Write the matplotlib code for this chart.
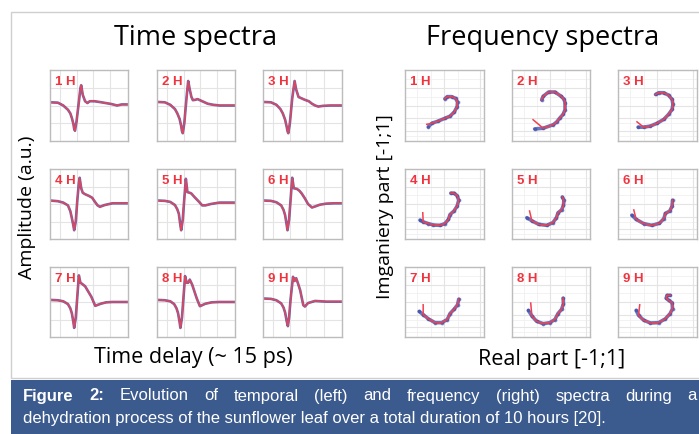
import numpy as np
import matplotlib
matplotlib.use('Agg')
import matplotlib.pyplot as plt
from matplotlib.patches import Rectangle

W, H = 699, 434

# ---- time spectra (normalised time 0..1, amplitude a.u.) ----
time_labels = ['1 H', '2 H', '3 H', '4 H', '5 H', '6 H', '7 H', '8 H', '9 H']
time_t = [
    [0, 0.10, 0.17, 0.23, 0.26, 0.28, 0.30, 0.31, 0.32, 0.34, 0.37, 0.39, 0.40, 0.42, 0.45, 0.48, 0.51, 0.57, 0.66, 0.79, 0.86, 0.92, 1.0],
    [0, 0.10, 0.17, 0.23, 0.26, 0.29, 0.31, 0.32, 0.33, 0.35, 0.38, 0.40, 0.42, 0.44, 0.46, 0.49, 0.52, 0.58, 0.65, 0.72, 0.80, 0.90, 1.0],
    [0, 0.10, 0.17, 0.22, 0.25, 0.28, 0.30, 0.31, 0.32, 0.34, 0.37, 0.40, 0.42, 0.45, 0.49, 0.53, 0.58, 0.62, 0.66, 0.70, 0.76, 0.85, 1.0],
    [0, 0.10, 0.17, 0.23, 0.26, 0.28, 0.30, 0.31, 0.33, 0.35, 0.37, 0.38, 0.40, 0.42, 0.45, 0.50, 0.54, 0.58, 0.61, 0.64, 0.70, 0.80, 0.90, 1.0],
    [0, 0.10, 0.17, 0.23, 0.26, 0.28, 0.30, 0.31, 0.33, 0.35, 0.37, 0.39, 0.42, 0.44, 0.48, 0.54, 0.58, 0.62, 0.69, 0.80, 0.90, 1.0],
    [0, 0.10, 0.17, 0.23, 0.26, 0.28, 0.30, 0.31, 0.33, 0.35, 0.37, 0.39, 0.43, 0.46, 0.49, 0.53, 0.57, 0.62, 0.66, 0.72, 0.80, 0.90, 1.0],
    [0, 0.10, 0.17, 0.23, 0.26, 0.28, 0.30, 0.31, 0.33, 0.35, 0.37, 0.39, 0.41, 0.45, 0.49, 0.53, 0.58, 0.65, 0.72, 0.80, 0.90, 1.0],
    [0, 0.10, 0.17, 0.22, 0.25, 0.27, 0.29, 0.30, 0.32, 0.34, 0.36, 0.38, 0.40, 0.42, 0.45, 0.48, 0.51, 0.55, 0.62, 0.70, 0.80, 0.90, 1.0],
    [0, 0.10, 0.17, 0.23, 0.26, 0.28, 0.30, 0.315, 0.33, 0.35, 0.38, 0.40, 0.42, 0.44, 0.47, 0.51, 0.53, 0.57, 0.66, 0.80, 0.90, 1.0],
]
time_amp = [
    [0.09, 0.08, 0.00, -0.12, -0.22, -0.35, -0.52, -0.66, -0.71, -0.45, 0.10, 0.49, 0.57, 0.30, 0.12, 0.07, 0.12, 0.12, 0.09, 0.04, 0.00, 0.03, 0.03],
    [0.10, 0.09, 0.02, -0.10, -0.22, -0.38, -0.58, -0.72, -0.78, -0.50, 0.25, 0.69, 0.45, 0.25, 0.15, 0.16, 0.18, 0.12, 0.05, 0.02, 0.00, 0.00, 0.00],
    [0.10, 0.09, 0.02, -0.10, -0.22, -0.40, -0.60, -0.72, -0.78, -0.50, 0.20, 0.69, 0.45, 0.24, 0.20, 0.16, 0.12, 0.05, 0.00, -0.03, -0.01, 0.00, 0.00],
    [0.10, 0.08, 0.04, -0.04, -0.20, -0.40, -0.62, -0.75, -0.50, 0.10, 0.60, 0.75, 0.45, 0.32, 0.28, 0.23, 0.18, 0.05, -0.04, -0.08, -0.03, 0.02, 0.02, 0.02],
    [0.10, 0.09, 0.06, -0.03, -0.15, -0.28, -0.61, -0.75, -0.45, 0.15, 0.72, 0.34, 0.32, 0.30, 0.20, 0.06, -0.04, -0.04, 0.00, 0.04, 0.04, 0.04],
    [0.10, 0.09, 0.05, -0.04, -0.17, -0.32, -0.60, -0.75, -0.45, 0.15, 0.75, 0.45, 0.43, 0.38, 0.30, 0.16, 0.00, -0.10, -0.07, -0.02, 0.01, 0.02, 0.02],
    [0.06, 0.05, 0.02, -0.06, -0.18, -0.32, -0.58, -0.74, -0.45, 0.15, 0.76, 0.55, 0.52, 0.45, 0.30, 0.15, -0.11, -0.05, -0.01, 0.00, 0.00, 0.00],
    [0.06, 0.05, 0.02, -0.06, -0.18, -0.32, -0.58, -0.74, -0.45, 0.15, 0.74, 0.55, 0.55, 0.64, 0.50, 0.30, 0.10, -0.12, -0.05, -0.01, 0.00, 0.00, 0.00],
    [0.10, 0.09, 0.05, -0.04, -0.16, -0.30, -0.55, -0.69, -0.45, 0.10, 0.72, 0.60, 0.68, 0.55, 0.34, -0.09, -0.13, -0.03, 0.03, 0.01, 0.01, 0.01],
]

# ---- frequency spectra (real / imaginary, [-1;1]) ----
freq_re = [
    [-0.32, -0.16, 0.01, 0.14, 0.25, 0.32, 0.33, 0.28, 0.18, 0.07, 0.01],
    [-0.20, 0.06, 0.15, 0.22, 0.31, 0.36, 0.36, 0.33, 0.26, 0.10, -0.06, -0.20, -0.24],
    [-0.35, -0.18, -0.01, 0.16, 0.28, 0.37, 0.39, 0.37, 0.28, 0.16, 0.03, -0.05],
    [-0.54, -0.41, -0.28, -0.11, 0.01, 0.10, 0.14, 0.24, 0.32, 0.36, 0.32, 0.24, 0.16],
    [-0.49, -0.32, -0.11, 0.05, 0.14, 0.18, 0.27, 0.32, 0.33, 0.29],
    [-0.54, -0.35, -0.14, 0.05, 0.16, 0.20, 0.31, 0.37, 0.38],
    [-0.54, -0.41, -0.24, -0.07, 0.07, 0.14, 0.24, 0.33, 0.36],
    [-0.49, -0.37, -0.20, -0.03, 0.10, 0.18, 0.27, 0.32, 0.31],
    [-0.48, -0.35, -0.18, 0.03, 0.20, 0.32, 0.38, 0.37, 0.28, 0.22, 0.24, 0.32],
]
freq_im = [
    [-0.50, -0.44, -0.36, -0.30, -0.18, -0.03, 0.10, 0.20, 0.25, 0.25, 0.19],
    [-0.64, -0.54, -0.46, -0.36, -0.25, -0.12, 0.08, 0.18, 0.26, 0.38, 0.38, 0.26, 0.16],
    [-0.61, -0.58, -0.50, -0.39, -0.25, -0.11, 0.03, 0.17, 0.29, 0.36, 0.36, 0.31],
    [-0.51, -0.56, -0.60, -0.61, -0.56, -0.44, -0.30, -0.20, -0.06, 0.11, 0.24, 0.31, 0.31],
    [-0.48, -0.58, -0.61, -0.53, -0.39, -0.25, -0.17, -0.04, 0.11, 0.20],
    [-0.44, -0.56, -0.61, -0.55, -0.42, -0.27, -0.20, -0.06, 0.11],
    [-0.36, -0.48, -0.59, -0.59, -0.50, -0.33, -0.21, -0.08, 0.08],
    [-0.40, -0.55, -0.62, -0.59, -0.50, -0.33, -0.21, -0.05, 0.11],
    [-0.38, -0.52, -0.60, -0.59, -0.48, -0.33, -0.19, -0.02, 0.05, 0.11, 0.19, 0.19],
]
# low-frequency start of measured (blue) and model (red) curves
blue_start = [(-0.41, -0.60), (-0.42, -0.66), (-0.49, -0.61), (-0.62, -0.46), (-0.62, -0.39),
              (-0.65, -0.32), (-0.64, -0.27), (-0.58, -0.24), (-0.54, -0.24)]
red_start = [(-0.45, -0.53), (-0.46, -0.40), (-0.52, -0.46), (-0.55, -0.25), (-0.55, -0.20),
             (-0.60, -0.17), (-0.54, -0.08), (-0.52, -0.03), (-0.45, -0.08)]

BLUE = '#3a48a6'
RED = '#f2404f'
LABEL_RED = '#f0343f'
GRID = '#e4e4e4'
EDGE = '#bcbcbc'

title_font = 'Open Sans'
cap_font = 'Liberation Sans'

fig = plt.figure(figsize=(W / 100, H / 100), dpi=100)
fig.patch.set_facecolor('white')


def px_axes(x0, y0, x1, y1):
    return fig.add_axes([x0 / W, 1 - y1 / H, (x1 - x0) / W, (y1 - y0) / H])


def style_panel(ax, xt, yt, minor_x=(), minor_y=()):
    ax.set_xticks(xt)
    ax.set_yticks(yt)
    ax.tick_params(length=0, labelbottom=False, labelleft=False)
    ax.grid(True, color=GRID, lw=0.8)
    for v in minor_x:
        ax.axvline(v, color='#f0f0f0', lw=0.6, zorder=0)
    for v in minor_y:
        ax.axhline(v, color='#f0f0f0', lw=0.6, zorder=0)
    for s in ax.spines.values():
        s.set_color(EDGE)
        s.set_linewidth(1.0)


# outer frame and caption band
fig.patches.append(Rectangle((11 / W, 1 - 378 / H), (720 - 11) / W, (378 - 12) / H,
                             transform=fig.transFigure, fill=False, ec='#cfcfcf', lw=1.0))
fig.patches.append(Rectangle((11 / W, 0), (W - 11) / W, (434 - 380) / H,
                             transform=fig.transFigure, fc='#3b5a8d', ec='none'))

time_cols = [(50, 128), (157, 235), (263, 342)]
freq_cols = [(405, 484), (512, 590), (618, 697)]
rows = [(70, 141), (169, 239), (267, 337)]

for i in range(9):
    r, c = divmod(i, 3)
    # time panel
    ax = px_axes(time_cols[c][0], rows[r][0], time_cols[c][1], rows[r][1])
    ax.plot(time_t[i], time_amp[i], color=BLUE, lw=1.9, alpha=0.8, solid_joinstyle='round')
    ax.plot(time_t[i], time_amp[i], color=RED, lw=1.1, alpha=0.9, solid_joinstyle='round')
    ax.set_xlim(0, 1)
    ax.set_ylim(-1, 1)
    style_panel(ax, [0.13, 0.34, 0.55, 0.77], [-0.5, 0.0, 0.5])
    ax.text(0.065, 0.83, time_labels[i], transform=ax.transAxes, color=LABEL_RED,
            fontsize=9.5, fontweight='bold', family='Liberation Sans', va='center', ha='left')

    # frequency panel
    ax = px_axes(freq_cols[c][0], rows[r][0], freq_cols[c][1], rows[r][1])
    bx = [blue_start[i][0]] + freq_re[i]
    by = [blue_start[i][1]] + freq_im[i]
    rx = [red_start[i][0]] + freq_re[i]
    ry = [red_start[i][1]] + freq_im[i]
    ax.plot(bx, by, color=BLUE, lw=2.6, alpha=0.75, solid_joinstyle='round', solid_capstyle='round')
    ax.plot(bx, by, 'o', color=BLUE, ms=1.8, alpha=0.5)
    ax.plot(rx, ry, color=RED, lw=1.1, solid_joinstyle='round')
    ax.set_xlim(-1, 1)
    ax.set_ylim(-1, 1)
    style_panel(ax, [-0.02, 0.9], [-0.72, -0.36, 0.0, 0.5],
                minor_x=[-0.7, -0.35, 0.35], minor_y=[-0.85, -0.5, 0.25, 0.75])
    ax.text(0.065, 0.83, time_labels[i], transform=ax.transAxes, color=LABEL_RED,
            fontsize=9.5, fontweight='bold', family='Liberation Sans', va='center', ha='left')

# titles and axis labels
fig.text(196 / W, 1 - 38 / H, 'Time spectra', ha='center', va='center', fontsize=19.5, family=title_font)
fig.text(543 / W, 1 - 38 / H, 'Frequency spectra', ha='center', va='center', fontsize=19.5, family=title_font)
fig.text(27 / W, 1 - 207 / H, 'Amplitude (a.u.)', rotation=90, ha='center', va='center',
         fontsize=14, family=title_font)
fig.text(385 / W, 1 - 207 / H, 'Imganiery part [-1;1]', rotation=90, ha='center', va='center',
         fontsize=14, family=title_font)
fig.text(193 / W, 1 - 358 / H, 'Time delay (~ 15 ps)', ha='center', va='center', fontsize=15.5,
         family=title_font)
fig.text(552 / W, 1 - 359 / H, 'Real part [-1;1]', ha='center', va='center', fontsize=15.5,
         family=title_font)

# caption, first line justified across the band
cap_size = 12
x0, x1 = 23, 697
line1 = [('Figure', 'bold'), ('2:', 'bold'), ('Evolution', 'normal'), ('of', 'normal'),
         ('temporal', 'normal'), ('(left)', 'normal'), ('and', 'normal'), ('frequency', 'normal'),
         ('(right)', 'normal'), ('spectra', 'normal'), ('during', 'normal'), ('a', 'normal')]
texts = [fig.text(0, 1 - 396 / H, w, color='white', fontsize=cap_size, fontweight=wt,
                  family=cap_font, va='center', ha='left') for w, wt in line1]
fig.canvas.draw()
rend = fig.canvas.get_renderer()
widths = [t.get_window_extent(rend).width for t in texts]
gap = (x1 - x0 - sum(widths)) / (len(texts) - 1)
x = x0
for t, wd in zip(texts, widths):
    t.set_x(x / W)
    x += wd + gap
fig.text(x0 / W, 1 - 418 / H,
         'dehydration process of the sunflower leaf over a total duration of 10 hours [20].',
         color='white', fontsize=cap_size, family=cap_font, va='center', ha='left')

fig.savefig('out.png', dpi=100)
